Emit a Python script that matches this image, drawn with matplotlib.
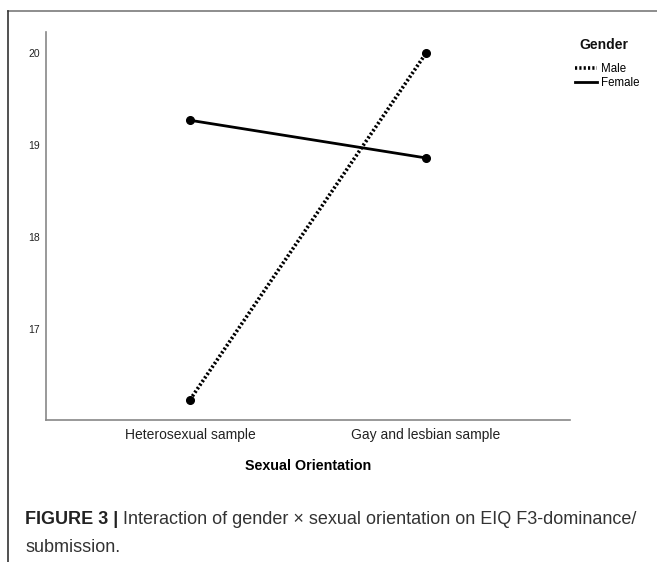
import matplotlib.pyplot as plt
from matplotlib.lines import Line2D

plt.rcParams['font.family'] = ['Liberation Sans', 'DejaVu Sans']

# data
groups = ["Heterosexual sample", "Gay and lesbian sample"]
male = [16.23, 20.0]
female = [19.27, 18.86]
yticks = [17, 18, 19, 20]

fig = plt.figure(figsize=(6.57, 5.62), dpi=100)

# page frame (top + left edges)
fig.add_artist(Line2D([8/657, 1], [1 - 11/562, 1 - 11/562], color="#7a7a7a", lw=1.2))
fig.add_artist(Line2D([8/657, 8/657], [0, 1 - 11/562], color="#333333", lw=1.2))

ax = fig.add_axes([46/657, 1 - 420/562, 524/657, 388/562])
x = list(range(len(groups)))
male_style = dict(color="black", lw=2.6, ls=(0, (0.6, 0.6)))
female_style = dict(color="black", lw=2.0)
ax.plot(x, male, marker="o", ms=5.5, **male_style)
ax.plot(x, female, marker="o", ms=5.5, **female_style)

ax.set_xlim(-0.61, 1.61)
ax.set_ylim(16.01, 20.23)
ax.set_xticks(x)
ax.set_xticklabels(groups, fontsize=10, color="#222222")
ax.set_yticks(yticks)
ax.set_yticklabels([str(t) for t in yticks], fontsize=7.5, color="#222222")
ax.tick_params(axis="y", length=0, pad=4.5)
ax.tick_params(axis="x", length=0, pad=6)
for s in ["top", "right"]:
    ax.spines[s].set_visible(False)
for s in ["left", "bottom"]:
    ax.spines[s].set_color("#888888")
    ax.spines[s].set_linewidth(1.2)
ax.set_xlabel("Sexual Orientation", fontsize=10.3, fontweight="bold", labelpad=12)

# legend
fig.text(604/657, 1 - 45/562, "Gender", fontsize=10, fontweight="bold",
         ha="center", va="center", color="#111111")
handles = [Line2D([], [], **male_style), Line2D([], [], **female_style)]
fig.legend(handles, ["Male", "Female"], loc="upper left",
           bbox_to_anchor=(569/657, 1 - 57/562), frameon=False,
           fontsize=8.3, handlelength=1.9, handletextpad=0.35,
           labelspacing=0.2, borderpad=0)

# caption
t1 = fig.text(25/657, 1 - 520/562, "FIGURE 3 |", fontsize=13, fontweight="bold",
              color="#222222", va="center")
fig.canvas.draw()
bb = t1.get_window_extent()
fig.text(bb.x1 / fig.bbox.width + 5/657, 1 - 520/562,
         "Interaction of gender \u00d7 sexual orientation on EIQ F3-dominance/",
         fontsize=13, color="#333333", va="center")
fig.text(25/657, 1 - 547/562, "submission.", fontsize=13, color="#333333", va="center")

fig.savefig("out.png", dpi=100)
